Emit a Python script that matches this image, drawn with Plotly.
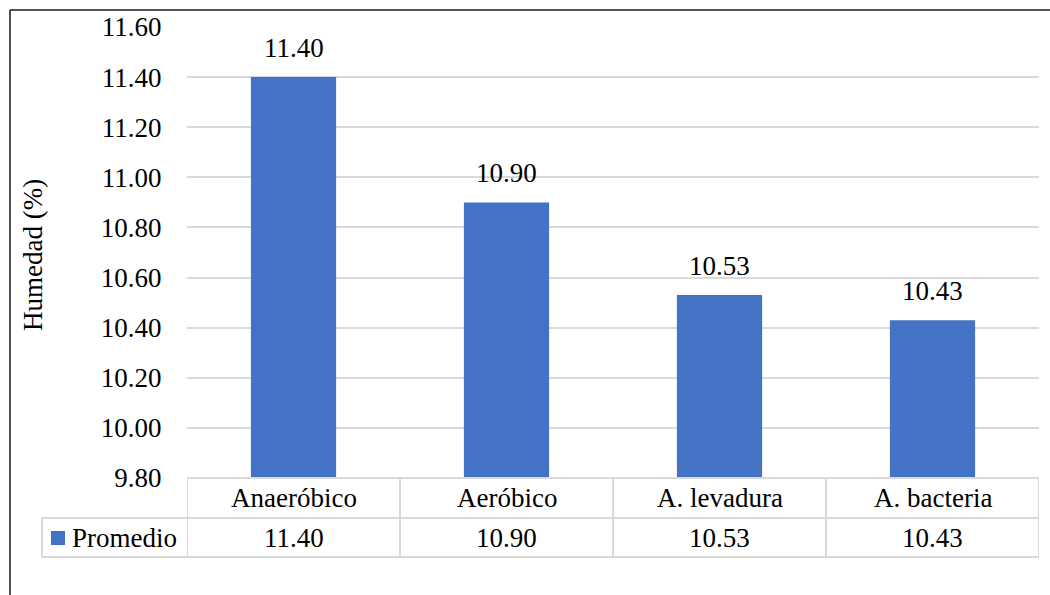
import plotly.graph_objects as go

# Moisture content by treatment
categories = ["Anaeróbico", "Aeróbico", "A. levadura", "A. bacteria"]
promedio = [11.40, 10.90, 10.53, 10.43]
series_name = "Promedio"
y_title = "Humedad (%)"
y_min, y_max, y_step = 9.80, 11.60, 0.20

W, H = 1050, 595
L, R, T, B = 187, 11, 27, 117
PW, PH = W - L - R, H - T - B

FONT = "Liberation Serif"
FS = 27
BAR = "#4472C4"
GRID = "#d9d9d9"


def px(xp):
    return (xp - L) / PW


def py(yp):
    return (H - B - yp) / PH


def serif():
    return dict(family=FONT, size=FS, color="black")


fig = go.Figure()
fig.add_trace(go.Bar(
    x=categories, y=promedio, name=series_name,
    marker=dict(color=BAR, line=dict(width=0)),
    showlegend=False, cliponaxis=False,
))

shapes = []
line = dict(color=GRID, width=2)
n = len(categories)
row_top, row_mid, row_bot = H - B, 518, 557

# data table grid
shapes.append(dict(type="line", xref="x", yref="paper", x0=-0.5, x1=n - 0.5,
                   y0=py(row_top), y1=py(row_top), line=line))
for yy in (row_mid, row_bot):
    shapes.append(dict(type="line", xref="paper", yref="paper", x0=px(42), x1=1,
                       y0=py(yy), y1=py(yy), line=line))
shapes.append(dict(type="line", xref="paper", yref="paper", x0=px(42), x1=px(42),
                   y0=py(row_mid), y1=py(row_bot), line=line))
for i in range(n + 1):
    shapes.append(dict(type="line", xref="x", yref="paper", x0=i - 0.5, x1=i - 0.5,
                       y0=py(row_top), y1=py(row_bot), line=line))

# legend key inside the table
shapes.append(dict(type="rect", xref="paper", yref="paper", x0=px(51), x1=px(65),
                   y0=py(545), y1=py(531), fillcolor=BAR, line=dict(width=0)))

# chart frame
frame = dict(color="#1a1a1a", width=1.5)
shapes.append(dict(type="line", xref="paper", yref="paper", x0=px(10), x1=px(1052),
                   y0=py(10), y1=py(10), line=frame))
shapes.append(dict(type="line", xref="paper", yref="paper", x0=px(10), x1=px(10),
                   y0=py(10), y1=py(597), line=frame))

annotations = []
for c, v in zip(categories, promedio):
    annotations.append(dict(x=c, y=v, xref="x", yref="y", text=f"{v:.2f}",
                            showarrow=False, yanchor="bottom", yshift=12, font=serif()))
    annotations.append(dict(x=c, y=py(498), xref="x", yref="paper", text=c,
                            showarrow=False, yanchor="middle", font=serif()))
    annotations.append(dict(x=c, y=py(538), xref="x", yref="paper", text=f"{v:.2f}",
                            showarrow=False, yanchor="middle", font=serif()))
annotations.append(dict(x=px(70), y=py(538), xref="paper", yref="paper",
                        text=series_name, showarrow=False, xanchor="left",
                        yanchor="middle", font=serif()))
annotations.append(dict(x=px(33), y=py(255), xref="paper", yref="paper",
                        text=y_title, textangle=-90, showarrow=False,
                        xanchor="center", yanchor="middle", font=serif()))

fig.update_layout(
    width=W, height=H,
    margin=dict(l=L, r=R, t=T, b=B, pad=0),
    paper_bgcolor="white", plot_bgcolor="white",
    bargap=0.6,
    shapes=shapes, annotations=annotations,
    xaxis=dict(showticklabels=False, showgrid=False, showline=False,
               zeroline=False, ticks="", range=[-0.5, n - 0.5]),
    yaxis=dict(range=[y_min, y_max], dtick=y_step, tick0=y_min,
               tickformat=".2f", showgrid=True, gridcolor=GRID, gridwidth=2,
               zeroline=False, showline=False, ticks="outside", ticklen=0,
               ticklabelstandoff=19, tickfont=serif()),
)

fig.write_html("out.html")
